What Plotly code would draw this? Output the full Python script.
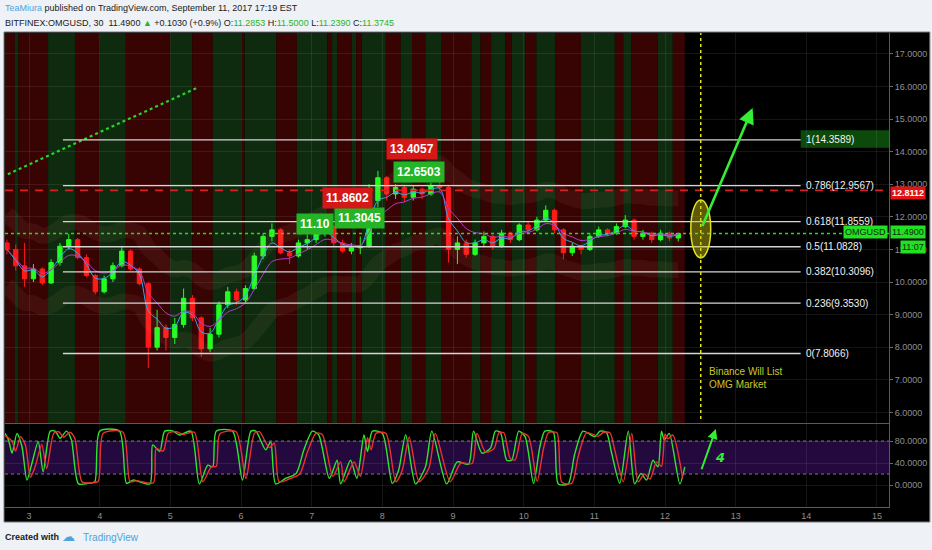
import plotly.graph_objects as go
import pandas as pd

# ---------------- text ----------------
author = "TeaMiura"
header_rest = " published on TradingView.com, September 11, 2017 17:19 EST"
symbol = "BITFINEX:OMGUSD, 30"
last_text = "11.4900"
change_text = "+0.1030 (+0.9%)"
ohlc_names = ["O:", "H:", "L:", "C:"]
ohlc_values = ["11.2853", "11.5000", "11.2390", "11.3745"]

# ---------------- candles (3h bars, x in days of Sept 2017) ----------------
candle_start = 2.6875
candle_step = 0.125
opens = [11.20, 11.00, 10.50, 10.10, 10.40, 9.97, 10.60, 11.10, 11.30, 10.75,
         10.20, 9.70, 10.10, 10.50, 10.95, 10.40, 9.95, 8.00, 8.60, 8.30,
         8.70, 9.50, 8.90, 7.95, 8.40, 9.30, 9.70, 9.45, 9.80, 10.80,
         11.40, 11.60, 10.90, 10.80, 11.20, 11.30, 11.55, 11.70, 11.20, 10.95,
         11.05, 11.10, 12.50, 13.20, 12.70, 12.90, 12.60, 12.85, 12.70, 12.95,
         12.90, 11.00, 11.20, 10.85, 11.20, 11.40, 11.10, 11.50, 11.30, 11.75,
         11.60, 11.90, 12.20, 11.60, 10.90, 11.10, 11.00, 11.40, 11.60, 11.50,
         11.70, 11.90, 11.40, 11.50, 11.30, 11.50, 11.35]
highs = [11.30, 11.15, 11.20, 10.55, 10.45, 10.70, 11.20, 11.48, 11.35, 10.85,
         10.25, 10.20, 10.60, 11.10, 11.00, 10.45, 10.00, 9.15, 8.70, 8.90,
         9.80, 9.60, 8.95, 8.60, 9.40, 9.85, 9.80, 9.90, 10.90, 11.50,
         11.80, 11.65, 11.00, 11.30, 11.45, 11.70, 11.86, 11.75, 11.30, 11.20,
         11.40, 13.00, 13.41, 13.25, 13.00, 12.95, 12.95, 12.90, 13.05, 13.10,
         12.95, 11.40, 11.30, 11.30, 11.55, 11.45, 11.60, 11.55, 11.80, 11.85,
         12.00, 12.35, 12.25, 11.65, 11.20, 11.15, 11.50, 11.70, 11.65, 11.80,
         12.05, 11.95, 11.60, 11.55, 11.60, 11.55, 11.50]
lows = [10.85, 10.35, 9.85, 10.00, 9.90, 9.95, 10.50, 11.00, 10.70, 10.15,
        9.62, 9.65, 10.00, 10.45, 10.35, 9.90, 7.36, 7.90, 7.90, 8.10,
        8.60, 8.80, 7.70, 7.85, 8.30, 9.20, 9.30, 9.35, 9.75, 10.70,
        11.25, 10.85, 10.55, 10.75, 11.00, 11.20, 11.40, 11.10, 10.90, 10.85,
        10.85, 11.05, 12.30, 12.50, 12.55, 12.45, 12.50, 12.55, 12.65, 12.75,
        10.60, 10.55, 10.75, 10.80, 11.10, 11.00, 11.05, 11.20, 11.25, 11.50,
        11.55, 11.85, 11.50, 10.70, 10.80, 10.85, 10.95, 11.35, 11.40, 11.45,
        11.65, 11.30, 11.30, 11.20, 11.25, 11.25, 11.24]
closes = [11.00, 10.50, 10.10, 10.40, 9.97, 10.60, 11.10, 11.30, 10.75, 10.20,
          9.70, 10.10, 10.50, 10.95, 10.40, 9.95, 8.00, 8.60, 8.30, 8.70,
          9.50, 8.90, 7.95, 8.40, 9.30, 9.70, 9.45, 9.80, 10.80, 11.40,
          11.60, 10.90, 10.80, 11.20, 11.30, 11.55, 11.70, 11.20, 10.95, 11.05,
          11.10, 12.50, 13.20, 12.70, 12.90, 12.60, 12.85, 12.70, 12.95, 12.90,
          11.00, 11.20, 10.85, 11.20, 11.40, 11.10, 11.50, 11.30, 11.75, 11.60,
          11.90, 12.20, 11.60, 10.90, 11.10, 11.00, 11.40, 11.60, 11.50, 11.70,
          11.90, 11.40, 11.50, 11.30, 11.50, 11.35, 11.49]
times = [candle_start + candle_step * i for i in range(len(closes))]

# ---------------- background trend stripes (day boundaries) ----------------
stripe_edges = [2.66, 2.80, 2.85, 3.27, 3.65, 4.00, 4.37, 5.00, 5.31, 5.60,
                6.00, 6.05, 6.50, 6.79, 7.22, 7.29, 7.36, 7.57, 7.63, 7.71,
                8.05, 8.26, 8.42, 8.61, 8.84, 9.26, 9.39, 9.54, 9.74, 9.83,
                10.02, 10.18, 10.45, 10.81, 11.29, 11.41, 11.52, 11.90, 12.11, 12.28]
stripe_colors = ["#380303", "#0f2b0f"]

# ---------------- axes ----------------
day_ticks = [3, 4, 5, 6, 7, 8, 9, 10, 11, 12, 13, 14, 15]
day_labels = ["3", "4", "5", "6", "7", "8", "9", "10", "11", "12", "13", "14", "15"]
price_ticks = [6, 7, 8, 9, 10, 11, 12, 13, 14, 15, 16, 17]
stoch_ticks = [0, 40, 80]
x_range = [2.66, 15.17]
price_range = [5.675, 17.64]
stoch_range = [-40, 111]

# ---------------- drawings ----------------
fib_ratios = ["1", "0.786", "0.618", "0.5", "0.382", "0.236", "0"]
fib_prices = [14.3589, 12.9567, 11.8559, 11.0828, 10.3096, 9.3530, 7.8066]
fib_days = [3.48, 13.92]
resistance = 12.8112
last_price = 11.49
trend_x = [2.70, 5.37]
trend_y = [13.31, 15.95]
event_day = 12.506
event_text = "Binance Will List<br>OMG Market"
label_texts = ["11.10", "11.3045", "11.8602", "13.4057", "12.6503"]
label_days = [7.05, 7.67, 7.50, 8.42, 8.52]
label_prices = [11.78, 11.96, 12.58, 14.08, 13.37]
label_kinds = ["up", "up", "down", "down", "up"]

# ---------------- stochastic ----------------
stoch_k_time = [2.66, 2.71, 2.76, 2.83, 2.90, 2.97, 3.04, 3.13, 3.20, 3.30,
                3.37, 3.44, 3.53, 3.60, 3.70, 3.84, 3.93, 4.00, 4.28, 4.38,
                4.47, 4.71, 4.75, 4.85, 4.92, 5.04, 5.13, 5.29, 5.41, 5.53,
                5.60, 5.65, 5.88, 6.02, 6.14, 6.21, 6.35, 6.42, 6.49, 6.63,
                6.78, 6.89, 7.01, 7.10, 7.25, 7.36, 7.41, 7.55, 7.64, 7.74,
                7.79, 7.86, 8.00, 8.14, 8.23, 8.33, 8.47, 8.61, 8.70, 8.91,
                9.06, 9.22, 9.29, 9.41, 9.53, 9.60, 9.67, 9.76, 9.83, 9.93,
                10.02, 10.14, 10.23, 10.30, 10.42, 10.49, 10.63, 10.72, 10.84, 11.01,
                11.08, 11.17, 11.24, 11.36, 11.48, 11.57, 11.66, 11.74, 11.83, 11.90,
                11.95, 11.99, 12.06, 12.21, 12.28]
stoch_k = [94, 82, 58, 94, 70, 9, 39, 79, 24, 98,
           98, 85, 98, 82, 2, 3, 6, 98, 98, 3,
           9, 2, 73, 61, 98, 98, 91, 98, 2, 36,
           33, 98, 98, 9, 98, 98, 64, 79, 2, 12,
           21, 64, 98, 91, 12, 45, 2, 45, 12, 91,
           61, 98, 94, 3, 27, 91, 2, 33, 98, 2,
           42, 38, 98, 58, 67, 98, 96, 45, 45, 98,
           88, 3, 70, 98, 96, 2, 2, 55, 98, 88,
           98, 96, 61, 3, 98, 2, 21, 9, 45, 33,
           98, 82, 94, 2, 33]
stoch_d_time = [2.66, 2.76, 2.81, 2.88, 2.95, 3.02, 3.09, 3.18, 3.25, 3.35,
                3.42, 3.49, 3.58, 3.65, 3.75, 3.89, 3.98, 4.05, 4.33, 4.43,
                4.52, 4.76, 4.80, 4.90, 4.97, 5.09, 5.18, 5.34, 5.46, 5.58,
                5.65, 5.70, 5.93, 6.07, 6.19, 6.26, 6.40, 6.47, 6.54, 6.68,
                6.83, 6.94, 7.06, 7.15, 7.30, 7.41, 7.46, 7.60, 7.69, 7.79,
                7.84, 7.91, 8.05, 8.19, 8.28, 8.38, 8.52, 8.66, 8.75, 8.96,
                9.11, 9.27, 9.34, 9.46, 9.58, 9.65, 9.72, 9.81, 9.88, 9.98,
                10.07, 10.19, 10.28, 10.35, 10.47, 10.54, 10.68, 10.77, 10.89, 11.06,
                11.13, 11.22, 11.29, 11.41, 11.53, 11.62, 11.71, 11.79, 11.88, 11.95,
                12.00, 12.04, 12.11, 12.25]
stoch_d = [90, 80, 62, 88, 72, 14, 35, 74, 30, 94,
           97, 87, 96, 84, 6, 4, 7, 94, 96, 6,
           8, 4, 66, 62, 94, 97, 92, 96, 6, 33,
           34, 93, 97, 12, 94, 97, 68, 76, 6, 11,
           20, 60, 94, 92, 16, 42, 6, 42, 16, 86,
           64, 94, 94, 6, 26, 87, 6, 31, 94, 6,
           40, 39, 94, 60, 66, 95, 95, 48, 46, 94,
           88, 7, 66, 95, 95, 5, 3, 51, 95, 89,
           96, 95, 63, 6, 94, 6, 20, 11, 42, 34,
           93, 84, 91, 12]

# ---------------- geometry helpers (pixels -> paper) ----------------
W, H = 932, 550
ML, MR, MT, MB = 5, 40, 33, 28
PW, PH = W - ML - MR, H - MT - MB


def px(x):
    return (x - ML) / PW


def py(y):
    return (H - MB - y) / PH


HDR_FONT = "Liberation Sans, Arial, sans-serif"
AX_FONT = dict(family="Liberation Sans, Arial, sans-serif", size=9, color="#8f8f8f")
GRID = "rgba(255,255,255,0.08)"

fig = go.Figure()

# smoothed indicator lines derived from the closes
close_s = pd.Series(closes)
ema_fast = close_s.ewm(span=3).mean()
ema_slow = close_s.ewm(span=6).mean()
ema_band = close_s.ewm(span=10).mean()

for off in (1.1, -1.1):
    fig.add_trace(go.Scatter(x=times, y=ema_band + off, mode="lines",
                             line=dict(color="rgba(215,175,130,0.07)", width=16, shape="spline"),
                             hoverinfo="skip"))

fig.add_trace(go.Candlestick(
    x=times, open=opens, high=highs, low=lows, close=closes,
    increasing=dict(line=dict(color="#22ff22", width=1), fillcolor="#22ff22"),
    decreasing=dict(line=dict(color="#ff1a1a", width=1), fillcolor="#ff1a1a"),
    whiskerwidth=0, hoverinfo="skip"))

fig.add_trace(go.Scatter(x=times, y=ema_fast, mode="lines",
                         line=dict(color="#3aa6e8", width=1, shape="spline"), hoverinfo="skip"))
fig.add_trace(go.Scatter(x=times, y=ema_slow, mode="lines",
                         line=dict(color="#b03cc8", width=1, shape="spline"), hoverinfo="skip"))

# dotted trend line
fig.add_trace(go.Scatter(x=trend_x, y=trend_y, mode="lines",
                         line=dict(color="#28d428", width=2.2, dash="dot"), hoverinfo="skip"))

# stochastic
fig.add_trace(go.Scatter(x=stoch_k_time, y=stoch_k, mode="lines", xaxis="x2", yaxis="y2",
                         line=dict(color="#2ee62e", width=1.4, shape="spline", smoothing=0.7),
                         hoverinfo="skip"))
fig.add_trace(go.Scatter(x=stoch_d_time, y=stoch_d, mode="lines", xaxis="x2", yaxis="y2",
                         line=dict(color="#e8322e", width=1.4, shape="spline", smoothing=0.7),
                         hoverinfo="skip"))

shapes = []
# dark frame behind everything
shapes.append(dict(type="rect", xref="paper", yref="paper", layer="below",
                   x0=px(4), x1=px(933), y0=py(522), y1=py(32),
                   fillcolor="#000000", line=dict(color="#7a7a7a", width=1)))
# stripes
for i in range(len(stripe_edges) - 1):
    shapes.append(dict(type="rect", xref="x", yref="y", layer="below",
                       x0=stripe_edges[i], x1=stripe_edges[i + 1],
                       y0=price_range[0], y1=price_range[1],
                       fillcolor=stripe_colors[i % 2], line=dict(width=0)))
# stochastic band
shapes.append(dict(type="rect", xref="x2", yref="y2", layer="below",
                   x0=x_range[0], x1=x_range[1], y0=20, y1=80,
                   fillcolor="#24093e", line=dict(width=0)))
for lvl in (20, 80):
    shapes.append(dict(type="line", xref="x2", yref="y2", x0=x_range[0], x1=x_range[1],
                       y0=lvl, y1=lvl, line=dict(color="#8a6aa8", width=1, dash="dot")))
# fib lines
for p in fib_prices:
    shapes.append(dict(type="line", xref="x", yref="y", x0=fib_days[0], x1=fib_days[1],
                       y0=p, y1=p, line=dict(color="#d6d6d6", width=1.3)))
# fib level 1 box
shapes.append(dict(type="rect", xref="x", yref="y", layer="below",
                   x0=fib_days[1], x1=x_range[1], y0=14.12, y1=14.66,
                   fillcolor="#0b4a0b", line=dict(width=0)))
# resistance dashed line
shapes.append(dict(type="line", xref="x", yref="y", x0=x_range[0], x1=x_range[1],
                   y0=resistance, y1=resistance,
                   line=dict(color="#d42222", width=1.6, dash="8px,7px")))
# last price dotted line
shapes.append(dict(type="line", xref="x", yref="y", x0=x_range[0], x1=x_range[1],
                   y0=last_price, y1=last_price,
                   line=dict(color="#22dd22", width=1.5, dash="dot")))
# event vertical line
shapes.append(dict(type="line", xref="x", yref="y", x0=event_day, x1=event_day,
                   y0=5.80, y1=price_range[1],
                   line=dict(color="#e2e21e", width=1.5, dash="dot")))
# ellipse
shapes.append(dict(type="circle", xref="x", yref="y", x0=12.365, x1=12.647,
                   y0=10.74, y1=12.52, fillcolor="rgba(205,200,20,0.45)",
                   line=dict(color="#e0e020", width=1.5)))

ann = []
# header
ann.append(dict(xref="paper", yref="paper", x=px(3), y=py(8), xanchor="left", yanchor="middle",
                showarrow=False, font=dict(family=HDR_FONT, size=9, color="#1a1a1a"),
                text=f"<span style='color:#4ea3dc'>{author}</span>{header_rest}"))
ohlc_html = " ".join(f"{n}<span style='color:#27b527'>{v}</span>" for n, v in zip(ohlc_names, ohlc_values))
ann.append(dict(xref="paper", yref="paper", x=px(3), y=py(23), xanchor="left", yanchor="middle",
                showarrow=False, font=dict(family=HDR_FONT, size=9, color="#1a1a1a"),
                text=f"{symbol}  {last_text} <span style='color:#27b527'>▲</span> {change_text} {ohlc_html}"))
# footer
ann.append(dict(xref="paper", yref="paper", x=px(3), y=py(537), xanchor="left", yanchor="middle",
                showarrow=False, font=dict(family=HDR_FONT, size=9, color="#1a1a1a"),
                text="<b>Created with</b>"))
ann.append(dict(xref="paper", yref="paper", x=px(60), y=py(536), xanchor="left", yanchor="middle",
                showarrow=False, font=dict(family="DejaVu Sans", size=13, color="#4ea3dc"),
                text="☁"))
ann.append(dict(xref="paper", yref="paper", x=px(81), y=py(537), xanchor="left", yanchor="middle",
                showarrow=False, font=dict(family=HDR_FONT, size=10, color="#4ea3dc"),
                text="TradingView"))
# fib labels
for r, p in zip(fib_ratios, fib_prices):
    ann.append(dict(xref="x", yref="y", x=13.96, y=p, xanchor="left", yanchor="middle",
                    showarrow=False, font=dict(family=HDR_FONT, size=10, color="#f2f2f2"),
                    text=f"{r}({p:.4f})"))
# price labels
for t, d, p, k in zip(label_texts, label_days, label_prices, label_kinds):
    ann.append(dict(xref="x", yref="y", x=d, y=p, showarrow=False,
                    font=dict(family=HDR_FONT, size=12, color="#ffffff"),
                    bgcolor="#d41818" if k == "down" else "#25b425", borderpad=3,
                    text=f"<b>{t}</b>"))
# right-axis boxes
ann.append(dict(xref="paper", yref="y", x=1.0, y=resistance - 0.08, xanchor="left", yanchor="middle",
                xshift=1, showarrow=False, bgcolor="#e01414", borderpad=1,
                font=dict(family=HDR_FONT, size=9, color="#ffffff"),
                text="<b>12.8112</b>"))
ann.append(dict(xref="paper", yref="y", x=1.0, y=last_price + 0.04, xanchor="left", yanchor="middle",
                xshift=1, showarrow=False, bgcolor="#22e022", borderpad=1,
                font=dict(family=HDR_FONT, size=9, color="#0a2a0a"),
                text="11.4900"))
ann.append(dict(xref="paper", yref="y", x=1.0, y=11.06, xanchor="left", yanchor="middle",
                xshift=11, showarrow=False, bgcolor="#22e022", borderpad=1,
                font=dict(family=HDR_FONT, size=9, color="#0a2a0a"),
                text="11:07"))
ann.append(dict(xref="paper", yref="y", x=1.0, y=last_price + 0.04, xanchor="right", yanchor="middle",
                xshift=-1, showarrow=False, bgcolor="#22e022", borderpad=1,
                font=dict(family=HDR_FONT, size=9, color="#0a2a0a"),
                text="OMGUSD"))
# event text
ann.append(dict(xref="x", yref="y", x=12.60, y=7.06, xanchor="left", yanchor="middle",
                showarrow=False, align="left",
                font=dict(family=HDR_FONT, size=10, color="#caca2c"),
                text=event_text))
# arrows
ann.append(dict(xref="x", yref="y", axref="x", ayref="y", x=13.24, y=15.34, ax=12.52, ay=11.67,
                showarrow=True, arrowhead=2, arrowsize=1.2, arrowwidth=2.6, arrowcolor="#33ee33",
                text=""))
ann.append(dict(xref="x2", yref="y2", axref="x2", ayref="y2", x=12.72, y=102, ax=12.51, ay=26,
                showarrow=True, arrowhead=2, arrowsize=1, arrowwidth=2, arrowcolor="#33ee33",
                text=""))
ann.append(dict(xref="x2", yref="y2", x=12.78, y=50, showarrow=False,
                font=dict(family="DejaVu Sans", size=13, color="#33ee33"), text="<i><b>4</b></i>"))

main_dom = [py(423), 1.0]
stoch_dom = [py(507), py(424)]

fig.update_layout(
    width=W, height=H,
    margin=dict(l=ML, r=MR, t=MT, b=MB),
    paper_bgcolor="#eef1f5", plot_bgcolor="#000000",
    showlegend=False, hovermode=False,
    shapes=shapes, annotations=ann,
    xaxis=dict(domain=[0, 1], range=x_range, anchor="y", tickvals=day_ticks,
               showticklabels=False, showgrid=True, gridcolor=GRID, zeroline=False,
               showline=True, linecolor="#5a5a5a", rangeslider=dict(visible=False), fixedrange=True),
    yaxis=dict(domain=main_dom, range=price_range, side="right", anchor="x",
               tickvals=price_ticks, tickformat=".4f", tickfont=AX_FONT,
               ticks="outside", ticklen=3, tickcolor="#6a6a6a",
               showgrid=True, gridcolor=GRID, zeroline=False,
               showline=True, linecolor="#5a5a5a"),
    xaxis2=dict(domain=[0, 1], range=x_range, anchor="y2", matches="x",
                tickvals=day_ticks, ticktext=day_labels, tickfont=AX_FONT,
                ticks="", showgrid=True, gridcolor=GRID, zeroline=False,
                showline=True, linecolor="#5a5a5a"),
    yaxis2=dict(domain=stoch_dom, range=stoch_range, side="right", anchor="x2",
                tickvals=stoch_ticks, tickformat=".4f", tickfont=AX_FONT,
                ticks="outside", ticklen=3, tickcolor="#6a6a6a",
                showgrid=True, gridcolor=GRID, zeroline=False,
                showline=True, linecolor="#5a5a5a"),
)

fig.write_html("out.html", config={"displayModeBar": False},
               post_script="document.body.style.margin='0px';document.body.style.overflow='hidden';")
